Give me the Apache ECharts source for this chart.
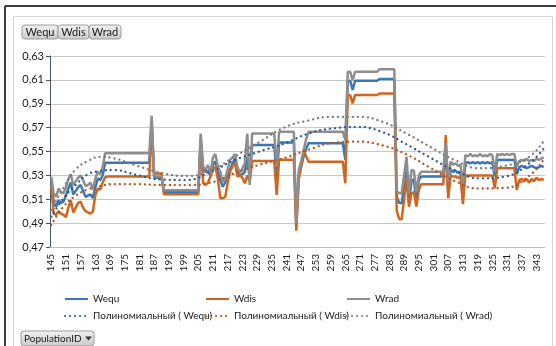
<!DOCTYPE html>
<html><head><meta charset="utf-8">
<script src="https://cdn.jsdelivr.net/npm/echarts@6/dist/echarts.min.js"></script>
<style>html,body{margin:0;padding:0;background:#fff}#c{width:556px;height:346px}</style>
</head><body><div id="c"></div>
<script>
var categories = [
'145','146','147','148','149','150','151','152','153','154','155','156','157','158','159','160','161','162','163','164',
'165','166','167','168','169','170','171','172','173','174','175','176','177','178','179','180','181','182','183','184',
'185','186','187','188','189','190','191','192','193','194','195','196','197','198','199','200','201','202','203','204',
'205','206','207','208','209','210','211','212','213','214','215','216','217','218','219','220','221','222','223','224',
'225','226','227','228','229','230','231','232','233','234','235','236','237','238','239','240','241','242','243','244',
'245','246','247','248','249','250','251','252','253','254','255','256','257','258','259','260','261','262','263','264',
'265','266','267','268','269','270','271','272','273','274','275','276','277','278','279','280','281','282','283','284',
'285','286','287','288','289','290','291','292','293','294','295','296','297','298','299','300','301','302','303','304',
'305','306','307','308','309','310','311','312','313','314','315','316','317','318','319','320','321','322','323','324',
'325','326','327','328','329','330','331','332','333','334','335','336','337','338','339','340','341','342','343','344',
'345','346'];

var wrad = [
.529,.515,.512,.519,.516,.515,.520,.527,.531,.522,
.525,.528,.530,.526,.521,.522,.524,.518,.5275,.533,
.531,.537,.5485,.5485,.5485,.5485,.5485,.5485,.5485,.5485,
.5485,.5485,.5485,.5485,.5485,.5485,.5485,.5485,.5485,.5485,
.5485,.580,.529,.529,.529,.529,.5175,.5175,.5175,.5175,
.5175,.5175,.5175,.5175,.5175,.5175,.5175,.5175,.5175,.5175,
.5175,.565,.537,.535,.5385,.532,.545,.548,.537,.533,
.5247,.527,.535,.543,.545,.548,.537,.532,.536,.540,
.565,.522,.565,.565,.565,.565,.565,.565,.565,.565,
.565,.565,.537,.5665,.5665,.5665,.5665,.5665,.5665,.5665,
.4898,.5345,.542,.551,.560,.5665,.5665,.5665,.5665,.5665,
.5665,.5665,.5665,.5665,.5665,.5665,.5665,.5665,.5665,.5665,
.560,.6168,.6168,.6098,.6168,.6168,.6168,.6168,.6168,.6168,
.6168,.6168,.6168,.6168,.619,.619,.619,.619,.619,.619,
.619,.517,.515,.515,.530,.5456,.515,.5345,.534,.516,
.530,.533,.533,.533,.533,.533,.533,.533,.533,.533,
.533,.557,.5247,.5415,.539,.540,.538,.539,.5218,.547,
.546,.548,.546,.547,.546,.548,.546,.547,.546,.548,
.547,.5331,.548,.547,.548,.547,.548,.547,.548,.548,
.5375,.542,.543,.542,.544,.542,.543,.542,.544,.543,
.544,.545];

var wequ = [
.526,.507,.504,.509,.507,.508,.513,.519,.524,.514,
.517,.520,.522,.517,.512,.513,.514,.511,.520,.5275,
.526,.530,.5406,.5406,.5406,.5406,.5406,.5406,.5406,.5406,
.5406,.5406,.5406,.5406,.5406,.5406,.5406,.5406,.5406,.5406,
.5406,.575,.528,.528,.528,.528,.516,.516,.516,.516,
.516,.516,.516,.516,.516,.516,.516,.516,.516,.516,
.516,.561,.535,.533,.534,.530,.539,.5415,.533,.526,
.5205,.524,.530,.535,.540,.5443,.533,.530,.531,.533,
.545,.5275,.5555,.5555,.5555,.5555,.5555,.5555,.5555,.5555,
.5555,.5555,.529,.5575,.5575,.5575,.5575,.5575,.5575,.5575,
.487,.530,.537,.546,.552,.5569,.5569,.5569,.5569,.5569,
.5569,.5569,.5569,.5569,.5569,.5569,.5569,.5569,.5569,.5569,
.543,.609,.6093,.6015,.6093,.6093,.6093,.6093,.6093,.6093,
.6093,.6093,.6093,.6093,.6107,.6107,.6107,.6107,.6107,.6107,
.6107,.512,.507,.5066,.521,.538,.507,.525,.527,.507,
.526,.529,.529,.529,.529,.529,.529,.529,.529,.529,
.529,.548,.515,.535,.533,.534,.532,.533,.515,.540,
.541,.540,.541,.540,.541,.540,.541,.540,.541,.540,
.541,.529,.5429,.543,.5429,.543,.5429,.543,.5429,.543,
.531,.537,.538,.537,.536,.537,.538,.537,.536,.537,
.538,.537];

var wdis = [
.522,.498,.497,.500,.498,.497,.495,.503,.509,.499,
.503,.507,.508,.503,.500,.499,.498,.4997,.5136,.519,
.518,.524,.5284,.529,.529,.529,.529,.529,.529,.529,
.529,.529,.529,.529,.529,.529,.529,.529,.529,.529,
.529,.569,.5315,.5315,.5315,.5315,.5142,.5142,.5142,.5142,
.5142,.5142,.5142,.5142,.5142,.5142,.5142,.5142,.5142,.5142,
.5142,.559,.5234,.522,.524,.529,.535,.537,.527,.511,
.5108,.512,.5234,.533,.538,.540,.529,.530,.528,.5234,
.530,.525,.542,.542,.542,.542,.542,.542,.542,.542,
.542,.542,.5136,.543,.543,.543,.543,.543,.543,.543,
.4837,.526,.538,.551,.546,.5415,.5415,.5415,.5415,.5415,
.5415,.5415,.5415,.5415,.5415,.5415,.5415,.5415,.5415,.5415,
.5234,.597,.5973,.5903,.5973,.5973,.5973,.5973,.5973,.5973,
.5973,.5973,.5973,.5973,.5985,.5985,.5985,.5985,.5985,.5985,
.5985,.500,.4935,.4932,.510,.528,.5038,.515,.516,.5038,
.518,.5225,.5225,.5225,.5225,.5225,.5225,.5225,.5225,.5225,
.5225,.5638,.5108,.530,.529,.529,.528,.529,.506,.530,
.530,.530,.530,.530,.530,.530,.530,.530,.530,.530,
.530,.5192,.536,.536,.536,.536,.536,.536,.536,.536,
.5177,.526,.527,.525,.527,.524,.527,.525,.528,.526,
.527,.526];

// trend lines read at sample categories
var trendCats = ['145','150','155','160','165','170','180','190','200','210','220','230','240','250','260','270','280','290','300','310','320','330','340','346'];
var trendWequ = [.4954,.5108,.522,.531,.5335,.5345,.5303,.5265,.5261,.533,.5429,.550,.5565,.565,.5694,.5705,.5664,.556,.5445,.534,.5275,.529,.540,.5527];
var trendWdis = [.4884,.5038,.513,.5183,.521,.5226,.5226,.522,.5219,.524,.532,.539,.5445,.5515,.5572,.5582,.5552,.5475,.536,.525,.519,.5195,.5295,.5435];
var trendWrad = [.501,.5195,.535,.542,.5455,.5445,.538,.532,.5295,.534,.546,.558,.570,.576,.579,.579,.575,.565,.5535,.5425,.536,.538,.5456,.559];

var yTicks = ['0,47','0,49','0,51','0,53','0,55','0,57','0,59','0,61','0,63'];
var seriesNames = ['Wequ','Wdis','Wrad'];
var trendNames = ['Полиномиальный ( Wequ)','Полиномиальный ( Wdis)','Полиномиальный ( Wrad)'];

function pairs(cats, vals){ return cats.map(function(c,i){ return [c, vals[i]]; }); }

var FONT = 'Lato, "Liberation Sans", sans-serif';
var chart = echarts.init(document.getElementById('c'), null, {renderer:'canvas'});

function button(x, y, w, h, label){
  return {type:'group', children:[
    {type:'rect', shape:{x:x, y:y, width:w, height:h, r:3},
     style:{fill:new echarts.graphic.LinearGradient(0,0,0,1,[{offset:0,color:'#f4f4f4'},{offset:1,color:'#c9c9c9'}]), stroke:'#9c9c9c', lineWidth:1}},
    {type:'text', style:{text:label, x:x+w/2, y:y+h/2+0.5, align:'center', verticalAlign:'middle', fontSize:11, fontFamily:FONT, fill:'#1a1a1a'}}
  ]};
}

var legendLefts = [59, 200, 341];
var legends = [];
seriesNames.forEach(function(n, i){
  legends.push({data:[n], left:legendLefts[i], top:289, itemWidth:23, itemHeight:12, itemGap:0,
    itemStyle:{opacity:0}, textStyle:{fontSize:10, color:'#1a1a1a', fontFamily:FONT}});
});
trendNames.forEach(function(n, i){
  legends.push({data:[n], left:legendLefts[i], top:306, itemWidth:23, itemHeight:12, itemGap:0,
    itemStyle:{opacity:0}, textStyle:{fontSize:10, color:'#1a1a1a', fontFamily:FONT}});
});

var DOT = [0.1, 4.9];
var option = {
  animation:false,
  backgroundColor:'#ffffff',
  textStyle:{fontFamily:FONT},
  grid:{left:50, right:11, top:56, bottom:99},
  legend:legends,
  xAxis:{type:'category', data:categories, boundaryGap:true,
    axisLine:{lineStyle:{color:'#bfbfbf'}}, axisTick:{show:false},
    axisLabel:{interval:5, rotate:90, fontSize:10, color:'#1a1a1a', margin:7, fontFamily:FONT}},
  yAxis:{type:'value', min:0.47, max:0.63, interval:0.02,
    axisLine:{show:true, lineStyle:{color:'#44546a'}}, axisTick:{show:true, length:4, lineStyle:{color:'#44546a'}},
    splitLine:{lineStyle:{color:'#c8c8c8'}},
    axisLabel:{fontSize:11, color:'#1a1a1a', margin:6, fontFamily:FONT,
      formatter:function(v){ var i=Math.round((v-0.47)/0.02); return yTicks[i]; }}},
  series:[
    {name:seriesNames[0], type:'line', data:wequ, symbol:'none', color:'#3a77b7', lineStyle:{width:2.5, color:'#3a77b7'}, z:2},
    {name:seriesNames[1], type:'line', data:wdis, symbol:'none', color:'#d0651f', lineStyle:{width:2.5, color:'#d0651f'}, z:2},
    {name:seriesNames[2], type:'line', data:wrad, symbol:'none', color:'#8e8e8e', lineStyle:{width:2.5, color:'#8e8e8e'}, z:3},
    {name:trendNames[0], type:'line', data:pairs(trendCats, trendWequ), smooth:0.5, symbol:'none', color:'#2c5a92',
     lineStyle:{width:2.3, color:'#2c5a92', type:DOT, cap:'round'}, z:4},
    {name:trendNames[1], type:'line', data:pairs(trendCats, trendWdis), smooth:0.5, symbol:'none', color:'#b8531b',
     lineStyle:{width:2.3, color:'#b8531b', type:DOT, cap:'round'}, z:4},
    {name:trendNames[2], type:'line', data:pairs(trendCats, trendWrad), smooth:0.5, symbol:'none', color:'#7c7c7c',
     lineStyle:{width:2.3, color:'#7c7c7c', type:DOT, cap:'round'}, z:4}
  ],
  graphic:[
    {type:'line', shape:{x1:5, y1:6, x2:556, y2:6}, style:{stroke:'#3f3f3f', lineWidth:2}},
    {type:'line', shape:{x1:5, y1:6, x2:5, y2:346}, style:{stroke:'#3f3f3f', lineWidth:2}},
    {type:'rect', shape:{x:13.5, y:16.5, width:539, height:340}, style:{fill:'none', stroke:'#d4d4d4', lineWidth:1}},
    button(22, 25, 36, 14, 'Wequ'),
    button(58, 25, 31, 14, 'Wdis'),
    button(89, 25, 32, 14, 'Wrad'),
    {type:'group', children:[
      {type:'rect', shape:{x:21, y:331, width:73, height:15, r:3},
       style:{fill:new echarts.graphic.LinearGradient(0,0,0,1,[{offset:0,color:'#f4f4f4'},{offset:1,color:'#c9c9c9'}]), stroke:'#9c9c9c', lineWidth:1}},
      {type:'text', style:{text:'PopulationID', x:24, y:339, align:'left', verticalAlign:'middle', fontSize:10, fontFamily:FONT, fill:'#1a1a1a'}},
      {type:'polygon', shape:{points:[[85,336.5],[92,336.5],[88.5,340.5]]}, style:{fill:'#333'}}
    ]}
  ]
};
chart.setOption(option);
</script></body></html>
